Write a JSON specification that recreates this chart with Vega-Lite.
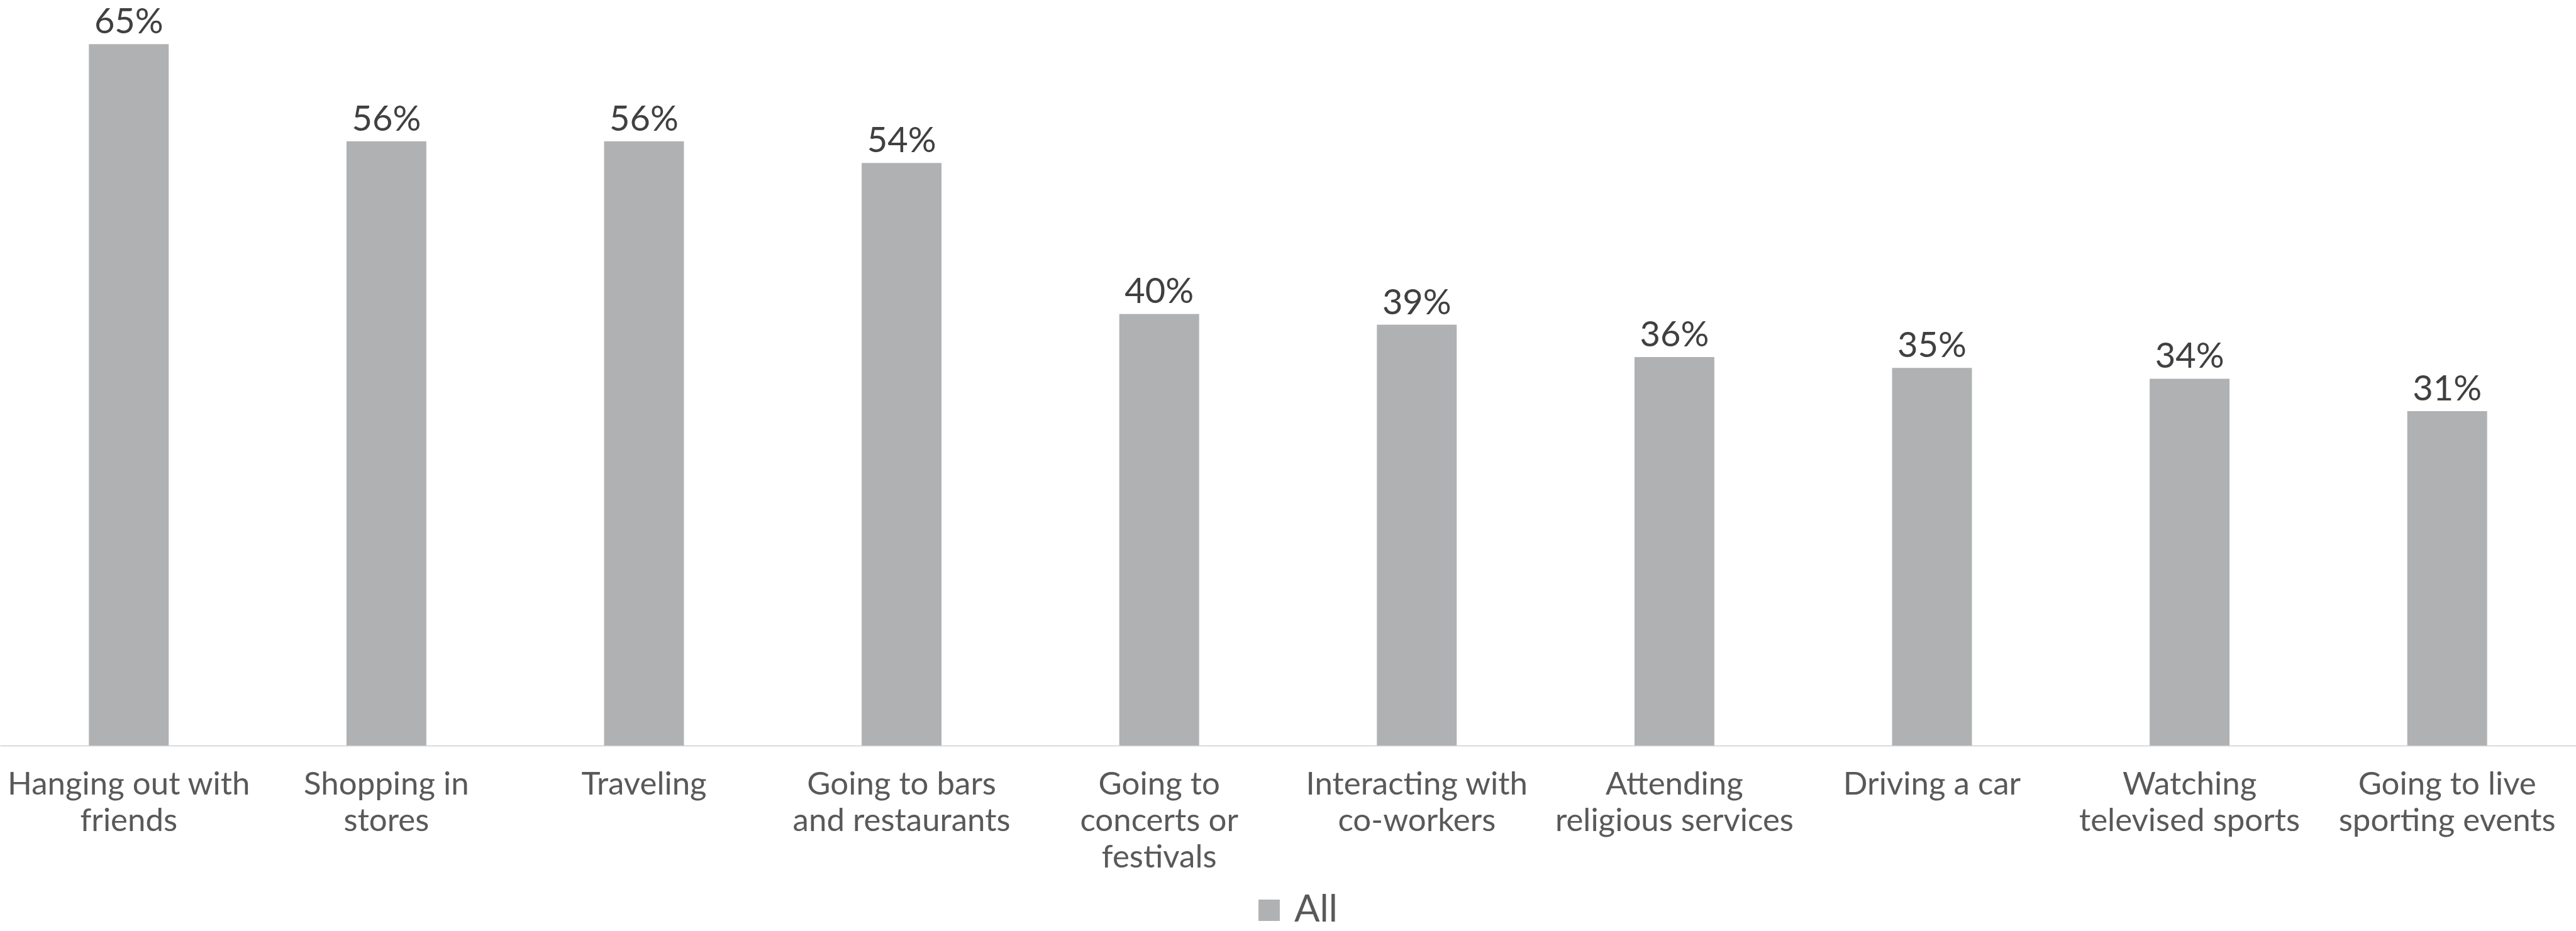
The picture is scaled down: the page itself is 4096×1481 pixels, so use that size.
{
  "$schema": "https://vega.github.io/schema/vega-lite/v6.json",
  "width": 4096,
  "height": 1186,
  "padding": {"left": 0, "top": 0, "right": 0, "bottom": 295},
  "autosize": {"type": "none"},
  "background": "white",
  "config": {"view": {"stroke": null}, "font": "Lato"},
  "data": {
    "values": [
      {"activity": "Hanging out with friends", "value": 0.65, "series": "All"},
      {"activity": "Shopping in stores", "value": 0.56, "series": "All"},
      {"activity": "Traveling", "value": 0.56, "series": "All"},
      {"activity": "Going to bars and restaurants", "value": 0.54, "series": "All"},
      {"activity": "Going to concerts or festivals", "value": 0.40, "series": "All"},
      {"activity": "Interacting with co-workers", "value": 0.39, "series": "All"},
      {"activity": "Attending religious services", "value": 0.36, "series": "All"},
      {"activity": "Driving a car", "value": 0.35, "series": "All"},
      {"activity": "Watching televised sports", "value": 0.34, "series": "All"},
      {"activity": "Going to live sporting events", "value": 0.31, "series": "All"}
    ]
  },
  "encoding": {
    "x": {
      "field": "activity",
      "type": "nominal",
      "sort": null,
      "scale": {"paddingInner": 0.69, "paddingOuter": 0.345},
      "axis": {
        "title": null,
        "ticks": false,
        "grid": false,
        "labelAngle": 0,
        "labelFont": "Lato",
        "labelFontSize": 51,
        "labelLineHeight": 58,
        "labelColor": "#595959",
        "labelPadding": 37,
        "labelBaseline": "top",
        "labelLimit": 0,
        "domainColor": "#d9d9d9",
        "domainWidth": 2,
        "labelExpr": "({'Hanging out with friends': ['Hanging out with', 'friends'], 'Shopping in stores': ['Shopping in', 'stores'], 'Traveling': 'Traveling', 'Going to bars and restaurants': ['Going to bars', 'and restaurants'], 'Going to concerts or festivals': ['Going to', 'concerts or', 'festivals'], 'Interacting with co-workers': ['Interacting with', 'co-workers'], 'Attending religious services': ['Attending', 'religious services'], 'Driving a car': 'Driving a car', 'Watching televised sports': ['Watching', 'televised sports'], 'Going to live sporting events': ['Going to live', 'sporting events']})[datum.label]"
      }
    },
    "y": {
      "field": "value",
      "type": "quantitative",
      "scale": {"domain": [0, 0.691], "nice": false, "zero": true},
      "axis": null
    }
  },
  "layer": [
    {
      "mark": {"type": "bar"},
      "encoding": {
        "color": {
          "field": "series",
          "type": "nominal",
          "scale": {"domain": ["All"], "range": ["#b0b1b3"]},
          "legend": {
            "title": null,
            "orient": "none",
            "legendX": 1988,
            "legendY": 1418,
            "padding": 0,
            "symbolType": "square",
            "symbolSize": 1150,
            "symbolStrokeWidth": 0,
            "labelFont": "Lato",
            "labelFontSize": 60,
            "labelColor": "#595959",
            "labelOffset": 10
          }
        }
      }
    },
    {
      "mark": {
        "type": "text",
        "baseline": "alphabetic",
        "dy": -17,
        "font": "Lato",
        "fontSize": 56,
        "color": "#404040"
      },
      "encoding": {
        "text": {"field": "value", "type": "quantitative", "format": ".0%"}
      }
    }
  ]
}
